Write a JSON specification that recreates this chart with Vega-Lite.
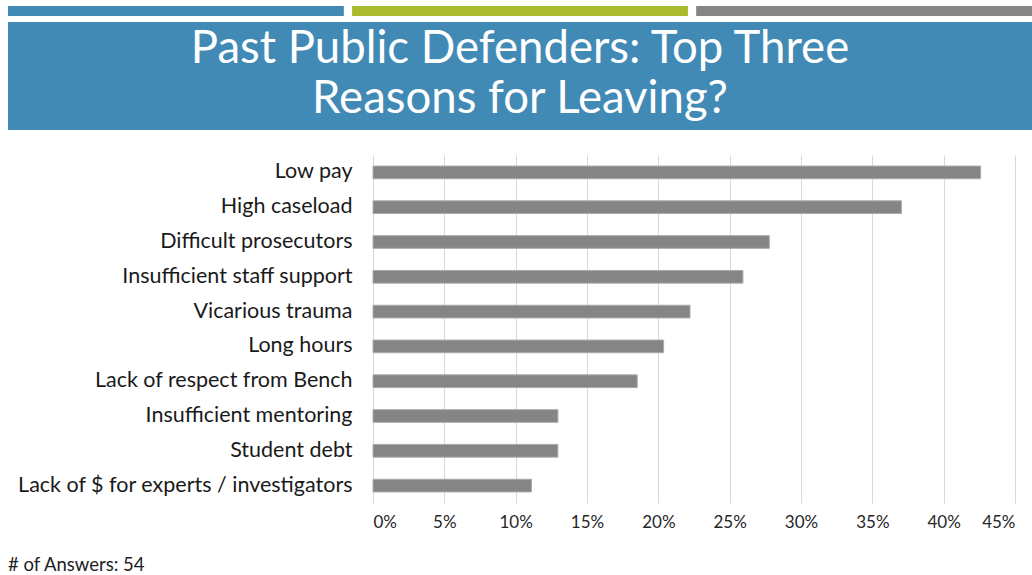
{
  "$schema": "https://vega.github.io/schema/vega-lite/v6.json",
  "padding": {"left": 8, "top": 6, "right": 0, "bottom": 0},
  "background": "white",
  "config": {"view": {"stroke": null}, "font": "Lato"},
  "spacing": 25,
  "vconcat": [
    {
      "spacing": 6,
      "vconcat": [
        {
          "width": 1024,
          "height": 10,
          "data": {"values": [
            {"segment": "blue"},
            {"segment": "green"},
            {"segment": "gray"}
          ]},
          "mark": {"type": "bar"},
          "encoding": {
            "x": {"field": "segment", "type": "nominal", "sort": null, "axis": null,
                  "scale": {"paddingInner": 0.024, "paddingOuter": 0}},
            "color": {"field": "segment", "type": "nominal", "legend": null,
                      "scale": {"domain": ["blue", "green", "gray"], "range": ["#428AB6", "#A9BA2C", "#858585"]}}
          }
        },
        {
          "width": 1024,
          "height": 108,
          "view": {"fill": "#428AB6", "stroke": null},
          "data": {"values": [
            {"line": 1, "text": "Past Public Defenders: Top Three"},
            {"line": 2, "text": "Reasons for Leaving?"}
          ]},
          "mark": {"type": "text", "color": "white", "fontSize": 45.5, "font": "Lato", "baseline": "alphabetic", "align": "center"},
          "encoding": {
            "y": {"field": "line", "type": "ordinal", "axis": null,
                  "scale": {"type": "point", "range": [41, 91], "padding": 0}},
            "text": {"field": "text", "type": "nominal"}
          }
        }
      ]
    },
    {
      "width": 1007,
      "height": 348,
      "title": {"text": "# of Answers: 54", "orient": "bottom", "anchor": "start", "fontSize": 18.5, "fontWeight": "normal", "color": "#222222", "font": "Lato", "offset": 26},
      "data": {"values": [
        {"reason": "Low pay", "share": 0.4259},
        {"reason": "High caseload", "share": 0.3704},
        {"reason": "Difficult prosecutors", "share": 0.2778},
        {"reason": "Insufficient staff support", "share": 0.2593},
        {"reason": "Vicarious trauma", "share": 0.2222},
        {"reason": "Long hours", "share": 0.2037},
        {"reason": "Lack of respect from Bench", "share": 0.1852},
        {"reason": "Insufficient mentoring", "share": 0.1296},
        {"reason": "Student debt", "share": 0.1296},
        {"reason": "Lack of $ for experts / investigators", "share": 0.1111}
      ]},
      "mark": {"type": "bar", "color": "#858585", "stroke": "#ABABAB", "strokeWidth": 1},
      "encoding": {
        "y": {"field": "reason", "type": "nominal", "sort": null, "title": null,
              "scale": {"paddingInner": 0.635, "paddingOuter": 0.3175},
              "axis": {"offset": -365, "domain": false, "ticks": false, "labelFontSize": 21.5, "labelColor": "#1a1a1a", "labelPadding": 21, "labelLimit": 400}},
        "x": {"field": "share", "type": "quantitative", "title": null,
              "scale": {"domain": [0, 0.45], "nice": false, "range": [365, 1007]},
              "axis": {"values": [0, 0.05, 0.1, 0.15, 0.2, 0.25, 0.3, 0.35, 0.4, 0.45], "format": ".0%",
                       "domain": false, "ticks": false, "grid": true, "gridColor": "#D9D9D9", "gridWidth": 1,
                       "labelFontSize": 17, "labelColor": "#262626", "labelPadding": 11}}
      }
    }
  ]
}
